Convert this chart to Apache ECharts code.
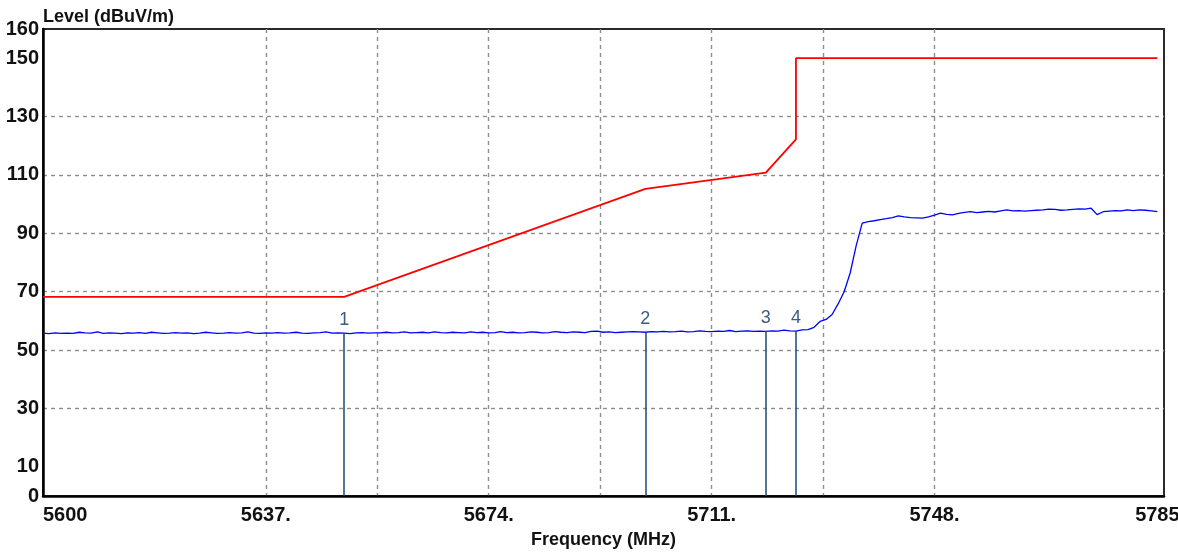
<!DOCTYPE html>
<html>
<head>
<meta charset="utf-8">
<script src="https://cdn.jsdelivr.net/npm/echarts@6/dist/echarts.min.js"></script>
<style>
html,body{margin:0;padding:0;background:#fff;}
#chart{width:1178px;height:554px;}
</style>
</head>
<body>
<div id="chart"></div>
<script>
// ---- data ----
const xGridTicks = [5618.5, 5637, 5655.5, 5674, 5692.5, 5711, 5729.5, 5748, 5766.5];
const xLabelValues = [5600, 5637, 5674, 5711, 5748, 5785];
const yGridTicks = [10, 30, 50, 70, 90, 110, 130, 150];
const yLabelValues = [0, 10, 30, 50, 70, 90, 110, 130, 150, 160];

const limitFreq  = [5600, 5650, 5700, 5720, 5725, 5725, 5785];
const limitLevel = [68.2, 68.2, 105.2, 110.8, 122.2, 150, 150];

const traceStartMHz = 5600;
const traceStepMHz = 1;
const traceLevel = [
  55.8,55.6,55.9,55.7,55.8,55.7,56.1,55.9,55.8,56.2,55.7,55.9,55.8,55.6,55.9,55.8,56.0,55.7,56.1,55.9,
  55.7,55.8,56.0,55.8,55.9,55.6,55.8,56.1,55.9,55.7,55.8,56.0,55.8,55.9,56.2,55.8,55.7,55.9,55.8,56.0,
  55.8,55.9,56.1,55.8,55.7,55.9,56.0,56.2,55.8,55.9,55.8,55.6,55.9,56.0,55.8,55.9,55.9,56.1,55.9,56.0,
  56.2,55.9,56.0,56.1,55.9,56.2,56.0,55.9,56.1,56.0,55.9,56.2,56.0,56.1,55.9,56.0,56.3,56.0,56.1,55.9,
  56.0,56.2,56.1,55.9,56.0,56.3,56.1,56.0,56.2,56.1,56.0,56.4,56.5,56.1,56.2,56.0,56.1,56.2,56.3,56.2,
  56.1,56.3,56.2,56.4,56.2,56.3,56.5,56.2,56.3,56.6,56.4,56.3,56.5,56.4,56.7,56.3,56.5,56.6,56.4,56.5,
  56.4,56.6,56.5,56.8,56.6,56.5,56.9,57.0,57.8,59.8,60.5,62.2,65.8,70.0,76.4,85.8,93.5,94.0,94.3,94.7,
  95.0,95.4,96.0,95.6,95.4,95.3,95.2,95.6,96.2,96.9,96.5,96.3,96.8,97.2,97.4,97.1,97.3,97.5,97.3,97.7,
  98.0,97.7,97.8,97.6,97.8,97.9,98.0,98.3,98.2,97.9,98.0,98.2,98.4,98.3,98.6,96.4,97.4,97.6,97.8,97.7,
  98.0,97.8,98.0,97.9,97.7,97.4
];

const markerFreq  = [5650, 5700, 5720, 5725];
const markerLevel = [55.8, 56.2, 56.5, 56.5];
const markerLabel = ['1', '2', '3', '4'];

// ---- chart ----
const FONT = '"Liberation Sans", Arial, sans-serif';
const chart = echarts.init(document.getElementById('chart'), null, {renderer: 'canvas'});

const limitData = limitFreq.map((f, i) => [f, limitLevel[i]]);
const traceData = traceLevel.map((v, i) => [traceStartMHz + i * traceStepMHz, v]);
const markerLines = markerFreq.map((f, i) => [
  {coord: [f, 0], name: markerLabel[i]},
  {coord: [f, markerLevel[i]]}
]);

const gridLine = {show: true, lineStyle: {color: '#8e8e8e', width: 1.4, type: [4, 4]}};

chart.setOption({
  animation: false,
  backgroundColor: '#ffffff',
  grid: {
    left: 43, right: 14, top: 29, bottom: 58,
    outerBoundsMode: 'none',
    show: true, borderColor: '#2a2a2a', borderWidth: 2, containLabel: false
  },
  xAxis: {
    type: 'value',
    min: 5600, max: 5786.1,
    name: 'Frequency (MHz)',
    nameLocation: 'middle',
    nameGap: 35,
    nameMoveOverlap: false,
    nameTextStyle: {fontFamily: FONT, fontWeight: 'bold', fontSize: 18, color: '#111'},
    axisLine: {show: true, onZero: false, lineStyle: {color: '#000', width: 2.5}},
    axisTick: {show: false, customValues: xGridTicks},
    axisLabel: {
      customValues: xLabelValues,
      alignMinLabel: 'left',
      margin: 9,
      fontFamily: FONT, fontWeight: 'bold', fontSize: 20, color: '#111',
      formatter: v => (v === 5600 || v === 5785) ? String(v) : v + '.'
    },
    splitLine: Object.assign({showMinLine: false, showMaxLine: false}, gridLine)
  },
  yAxis: {
    type: 'value',
    min: 0, max: 160,
    name: 'Level (dBuV/m)',
    nameLocation: 'end',
    nameGap: 12,
    nameMoveOverlap: false,
    nameTextStyle: {fontFamily: FONT, fontWeight: 'bold', fontSize: 18, color: '#111', align: 'left', verticalAlign: 'middle'},
    axisLine: {show: true, onZero: false, lineStyle: {color: '#000', width: 2.5}},
    axisTick: {show: false, customValues: yGridTicks},
    axisLabel: {
      customValues: yLabelValues,
      margin: 4,
      fontFamily: FONT, fontWeight: 'bold', fontSize: 20, color: '#111'
    },
    splitLine: Object.assign({showMinLine: false, showMaxLine: false}, gridLine)
  },
  series: [
    {
      name: 'Limit',
      type: 'line',
      data: limitData,
      symbol: 'none',
      lineStyle: {color: '#ff0000', width: 1.8},
      z: 3
    },
    {
      name: 'Trace',
      type: 'line',
      data: traceData,
      symbol: 'none',
      lineStyle: {color: '#0000ff', width: 1.3},
      z: 4,
      markLine: {
        silent: true,
        symbol: 'none',
        lineStyle: {color: '#1f4870', width: 1.5, type: 'solid'},
        label: {
          show: true,
          position: 'end',
          distance: 4,
          formatter: '{b}',
          fontFamily: FONT, fontSize: 18, color: '#3b5c84'
        },
        data: markerLines
      }
    }
  ]
});
</script>
</body>
</html>
